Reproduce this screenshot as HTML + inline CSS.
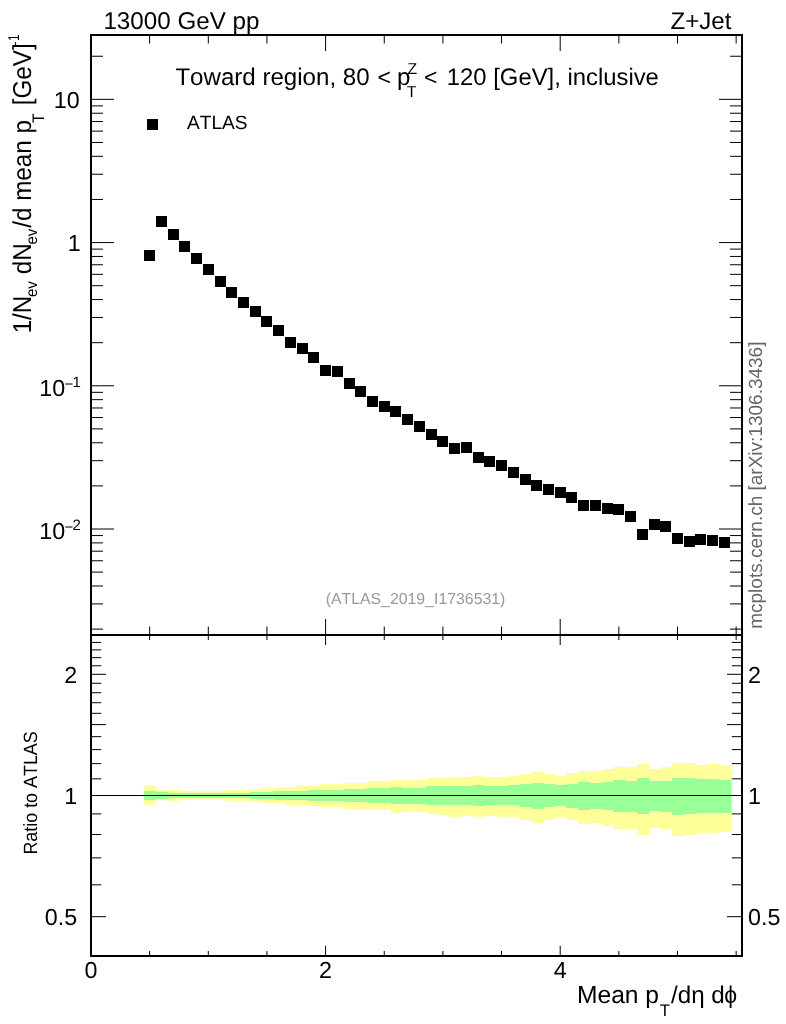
<!DOCTYPE html>
<html><head><meta charset="utf-8"><title>Toward region plot</title>
<style>html,body{margin:0;padding:0;background:#fff}svg{display:block;will-change:transform;filter:opacity(1)}text{font-family:"Liberation Sans",sans-serif;font-kerning:none;text-rendering:geometricPrecision;fill:#000}</style>
</head><body>
<svg width="786" height="1024" viewBox="0 0 786 1024">
<rect x="0" y="0" width="786" height="1024" fill="#fff"/>
<g shape-rendering="crispEdges">
<rect x="144" y="786" width="12" height="19" fill="#ffff99"/>
<rect x="156" y="790" width="12" height="10" fill="#ffff99"/>
<rect x="168" y="790" width="11" height="11" fill="#ffff99"/>
<rect x="179" y="791" width="12" height="9" fill="#ffff99"/>
<rect x="191" y="791" width="12" height="9" fill="#ffff99"/>
<rect x="203" y="791" width="12" height="9" fill="#ffff99"/>
<rect x="215" y="791" width="11" height="9" fill="#ffff99"/>
<rect x="226" y="790" width="12" height="11" fill="#ffff99"/>
<rect x="238" y="790" width="12" height="11" fill="#ffff99"/>
<rect x="250" y="789" width="11" height="13" fill="#ffff99"/>
<rect x="261" y="788" width="12" height="15" fill="#ffff99"/>
<rect x="273" y="788" width="12" height="15" fill="#ffff99"/>
<rect x="285" y="787" width="12" height="18" fill="#ffff99"/>
<rect x="297" y="786" width="11" height="19" fill="#ffff99"/>
<rect x="308" y="786" width="12" height="20" fill="#ffff99"/>
<rect x="320" y="784" width="12" height="23" fill="#ffff99"/>
<rect x="332" y="784" width="12" height="23" fill="#ffff99"/>
<rect x="344" y="783" width="11" height="26" fill="#ffff99"/>
<rect x="355" y="783" width="12" height="27" fill="#ffff99"/>
<rect x="367" y="781" width="12" height="29" fill="#ffff99"/>
<rect x="379" y="781" width="12" height="29" fill="#ffff99"/>
<rect x="391" y="780" width="11" height="33" fill="#ffff99"/>
<rect x="402" y="780" width="12" height="32" fill="#ffff99"/>
<rect x="414" y="780" width="12" height="32" fill="#ffff99"/>
<rect x="426" y="778" width="11" height="36" fill="#ffff99"/>
<rect x="437" y="778" width="12" height="37" fill="#ffff99"/>
<rect x="449" y="777" width="12" height="40" fill="#ffff99"/>
<rect x="461" y="777" width="12" height="39" fill="#ffff99"/>
<rect x="473" y="776" width="11" height="41" fill="#ffff99"/>
<rect x="484" y="777" width="12" height="39" fill="#ffff99"/>
<rect x="496" y="777" width="12" height="40" fill="#ffff99"/>
<rect x="508" y="776" width="12" height="41" fill="#ffff99"/>
<rect x="520" y="774" width="11" height="46" fill="#ffff99"/>
<rect x="531" y="772" width="12" height="51" fill="#ffff99"/>
<rect x="543" y="774" width="12" height="46" fill="#ffff99"/>
<rect x="555" y="776" width="11" height="41" fill="#ffff99"/>
<rect x="566" y="773" width="12" height="47" fill="#ffff99"/>
<rect x="578" y="771" width="12" height="53" fill="#ffff99"/>
<rect x="590" y="771" width="12" height="52" fill="#ffff99"/>
<rect x="602" y="769" width="11" height="57" fill="#ffff99"/>
<rect x="613" y="767" width="12" height="62" fill="#ffff99"/>
<rect x="625" y="767" width="12" height="62" fill="#ffff99"/>
<rect x="637" y="764" width="12" height="71" fill="#ffff99"/>
<rect x="649" y="769" width="11" height="59" fill="#ffff99"/>
<rect x="660" y="767" width="12" height="62" fill="#ffff99"/>
<rect x="672" y="763" width="12" height="73" fill="#ffff99"/>
<rect x="684" y="763" width="11" height="72" fill="#ffff99"/>
<rect x="695" y="765" width="12" height="68" fill="#ffff99"/>
<rect x="707" y="764" width="12" height="69" fill="#ffff99"/>
<rect x="719" y="765" width="12" height="67" fill="#ffff99"/>
<rect x="144" y="791" width="12" height="9" fill="#99ff99"/>
<rect x="156" y="792" width="12" height="7" fill="#99ff99"/>
<rect x="168" y="793" width="11" height="5" fill="#99ff99"/>
<rect x="179" y="793" width="12" height="5" fill="#99ff99"/>
<rect x="191" y="793" width="12" height="5" fill="#99ff99"/>
<rect x="203" y="793" width="12" height="5" fill="#99ff99"/>
<rect x="215" y="793" width="11" height="5" fill="#99ff99"/>
<rect x="226" y="793" width="12" height="5" fill="#99ff99"/>
<rect x="238" y="793" width="12" height="5" fill="#99ff99"/>
<rect x="250" y="792" width="11" height="7" fill="#99ff99"/>
<rect x="261" y="792" width="12" height="7" fill="#99ff99"/>
<rect x="273" y="791" width="12" height="9" fill="#99ff99"/>
<rect x="285" y="791" width="12" height="9" fill="#99ff99"/>
<rect x="297" y="791" width="11" height="9" fill="#99ff99"/>
<rect x="308" y="790" width="12" height="11" fill="#99ff99"/>
<rect x="320" y="790" width="12" height="11" fill="#99ff99"/>
<rect x="332" y="790" width="12" height="11" fill="#99ff99"/>
<rect x="344" y="789" width="11" height="13" fill="#99ff99"/>
<rect x="355" y="789" width="12" height="13" fill="#99ff99"/>
<rect x="367" y="788" width="12" height="15" fill="#99ff99"/>
<rect x="379" y="788" width="12" height="15" fill="#99ff99"/>
<rect x="391" y="787" width="11" height="17" fill="#99ff99"/>
<rect x="402" y="788" width="12" height="16" fill="#99ff99"/>
<rect x="414" y="788" width="12" height="16" fill="#99ff99"/>
<rect x="426" y="786" width="11" height="19" fill="#99ff99"/>
<rect x="437" y="786" width="12" height="19" fill="#99ff99"/>
<rect x="449" y="786" width="12" height="19" fill="#99ff99"/>
<rect x="461" y="786" width="12" height="19" fill="#99ff99"/>
<rect x="473" y="785" width="11" height="21" fill="#99ff99"/>
<rect x="484" y="786" width="12" height="19" fill="#99ff99"/>
<rect x="496" y="786" width="12" height="19" fill="#99ff99"/>
<rect x="508" y="785" width="12" height="20" fill="#99ff99"/>
<rect x="520" y="784" width="11" height="23" fill="#99ff99"/>
<rect x="531" y="783" width="12" height="26" fill="#99ff99"/>
<rect x="543" y="784" width="12" height="23" fill="#99ff99"/>
<rect x="555" y="785" width="11" height="21" fill="#99ff99"/>
<rect x="566" y="784" width="12" height="24" fill="#99ff99"/>
<rect x="578" y="782" width="12" height="28" fill="#99ff99"/>
<rect x="590" y="783" width="12" height="26" fill="#99ff99"/>
<rect x="602" y="782" width="11" height="28" fill="#99ff99"/>
<rect x="613" y="780" width="12" height="32" fill="#99ff99"/>
<rect x="625" y="781" width="12" height="31" fill="#99ff99"/>
<rect x="637" y="778" width="12" height="36" fill="#99ff99"/>
<rect x="649" y="781" width="11" height="30" fill="#99ff99"/>
<rect x="660" y="781" width="12" height="31" fill="#99ff99"/>
<rect x="672" y="778" width="12" height="37" fill="#99ff99"/>
<rect x="684" y="778" width="11" height="36" fill="#99ff99"/>
<rect x="695" y="779" width="12" height="34" fill="#99ff99"/>
<rect x="707" y="779" width="12" height="34" fill="#99ff99"/>
<rect x="719" y="780" width="12" height="33" fill="#99ff99"/>
</g>
<line x1="91" y1="795.5" x2="742" y2="795.5" stroke="#000" stroke-width="1.2"/>
<g stroke="#000" stroke-width="1">
<line x1="92.0" y1="629.12" x2="103.0" y2="629.12"/>
<line x1="730.0" y1="629.12" x2="741.0" y2="629.12"/>
<line x1="92.0" y1="603.90" x2="103.0" y2="603.90"/>
<line x1="730.0" y1="603.90" x2="741.0" y2="603.90"/>
<line x1="92.0" y1="586.00" x2="103.0" y2="586.00"/>
<line x1="730.0" y1="586.00" x2="741.0" y2="586.00"/>
<line x1="92.0" y1="572.12" x2="103.0" y2="572.12"/>
<line x1="730.0" y1="572.12" x2="741.0" y2="572.12"/>
<line x1="92.0" y1="560.78" x2="103.0" y2="560.78"/>
<line x1="730.0" y1="560.78" x2="741.0" y2="560.78"/>
<line x1="92.0" y1="551.20" x2="103.0" y2="551.20"/>
<line x1="730.0" y1="551.20" x2="741.0" y2="551.20"/>
<line x1="92.0" y1="542.89" x2="103.0" y2="542.89"/>
<line x1="730.0" y1="542.89" x2="741.0" y2="542.89"/>
<line x1="92.0" y1="535.56" x2="103.0" y2="535.56"/>
<line x1="730.0" y1="535.56" x2="741.0" y2="535.56"/>
<line x1="92.0" y1="529.01" x2="114.0" y2="529.01"/>
<line x1="719.0" y1="529.01" x2="741.0" y2="529.01"/>
<line x1="92.0" y1="485.90" x2="103.0" y2="485.90"/>
<line x1="730.0" y1="485.90" x2="741.0" y2="485.90"/>
<line x1="92.0" y1="460.68" x2="103.0" y2="460.68"/>
<line x1="730.0" y1="460.68" x2="741.0" y2="460.68"/>
<line x1="92.0" y1="442.78" x2="103.0" y2="442.78"/>
<line x1="730.0" y1="442.78" x2="741.0" y2="442.78"/>
<line x1="92.0" y1="428.90" x2="103.0" y2="428.90"/>
<line x1="730.0" y1="428.90" x2="741.0" y2="428.90"/>
<line x1="92.0" y1="417.56" x2="103.0" y2="417.56"/>
<line x1="730.0" y1="417.56" x2="741.0" y2="417.56"/>
<line x1="92.0" y1="407.98" x2="103.0" y2="407.98"/>
<line x1="730.0" y1="407.98" x2="741.0" y2="407.98"/>
<line x1="92.0" y1="399.67" x2="103.0" y2="399.67"/>
<line x1="730.0" y1="399.67" x2="741.0" y2="399.67"/>
<line x1="92.0" y1="392.34" x2="103.0" y2="392.34"/>
<line x1="730.0" y1="392.34" x2="741.0" y2="392.34"/>
<line x1="92.0" y1="385.79" x2="114.0" y2="385.79"/>
<line x1="719.0" y1="385.79" x2="741.0" y2="385.79"/>
<line x1="92.0" y1="342.68" x2="103.0" y2="342.68"/>
<line x1="730.0" y1="342.68" x2="741.0" y2="342.68"/>
<line x1="92.0" y1="317.46" x2="103.0" y2="317.46"/>
<line x1="730.0" y1="317.46" x2="741.0" y2="317.46"/>
<line x1="92.0" y1="299.56" x2="103.0" y2="299.56"/>
<line x1="730.0" y1="299.56" x2="741.0" y2="299.56"/>
<line x1="92.0" y1="285.68" x2="103.0" y2="285.68"/>
<line x1="730.0" y1="285.68" x2="741.0" y2="285.68"/>
<line x1="92.0" y1="274.34" x2="103.0" y2="274.34"/>
<line x1="730.0" y1="274.34" x2="741.0" y2="274.34"/>
<line x1="92.0" y1="264.76" x2="103.0" y2="264.76"/>
<line x1="730.0" y1="264.76" x2="741.0" y2="264.76"/>
<line x1="92.0" y1="256.45" x2="103.0" y2="256.45"/>
<line x1="730.0" y1="256.45" x2="741.0" y2="256.45"/>
<line x1="92.0" y1="249.12" x2="103.0" y2="249.12"/>
<line x1="730.0" y1="249.12" x2="741.0" y2="249.12"/>
<line x1="92.0" y1="242.57" x2="114.0" y2="242.57"/>
<line x1="719.0" y1="242.57" x2="741.0" y2="242.57"/>
<line x1="92.0" y1="199.46" x2="103.0" y2="199.46"/>
<line x1="730.0" y1="199.46" x2="741.0" y2="199.46"/>
<line x1="92.0" y1="174.24" x2="103.0" y2="174.24"/>
<line x1="730.0" y1="174.24" x2="741.0" y2="174.24"/>
<line x1="92.0" y1="156.34" x2="103.0" y2="156.34"/>
<line x1="730.0" y1="156.34" x2="741.0" y2="156.34"/>
<line x1="92.0" y1="142.46" x2="103.0" y2="142.46"/>
<line x1="730.0" y1="142.46" x2="741.0" y2="142.46"/>
<line x1="92.0" y1="131.12" x2="103.0" y2="131.12"/>
<line x1="730.0" y1="131.12" x2="741.0" y2="131.12"/>
<line x1="92.0" y1="121.54" x2="103.0" y2="121.54"/>
<line x1="730.0" y1="121.54" x2="741.0" y2="121.54"/>
<line x1="92.0" y1="113.23" x2="103.0" y2="113.23"/>
<line x1="730.0" y1="113.23" x2="741.0" y2="113.23"/>
<line x1="92.0" y1="105.90" x2="103.0" y2="105.90"/>
<line x1="730.0" y1="105.90" x2="741.0" y2="105.90"/>
<line x1="92.0" y1="99.35" x2="114.0" y2="99.35"/>
<line x1="719.0" y1="99.35" x2="741.0" y2="99.35"/>
<line x1="92.0" y1="56.24" x2="103.0" y2="56.24"/>
<line x1="730.0" y1="56.24" x2="741.0" y2="56.24"/>
<line x1="92.0" y1="916.70" x2="106.0" y2="916.70"/>
<line x1="727.0" y1="916.70" x2="741.0" y2="916.70"/>
<line x1="92.0" y1="884.82" x2="101.2" y2="884.82"/>
<line x1="731.8" y1="884.82" x2="741.0" y2="884.82"/>
<line x1="92.0" y1="857.87" x2="101.2" y2="857.87"/>
<line x1="731.8" y1="857.87" x2="741.0" y2="857.87"/>
<line x1="92.0" y1="834.52" x2="101.2" y2="834.52"/>
<line x1="731.8" y1="834.52" x2="741.0" y2="834.52"/>
<line x1="92.0" y1="813.92" x2="101.2" y2="813.92"/>
<line x1="731.8" y1="813.92" x2="741.0" y2="813.92"/>
<line x1="92.0" y1="795.50" x2="106.0" y2="795.50"/>
<line x1="727.0" y1="795.50" x2="741.0" y2="795.50"/>
<line x1="92.0" y1="778.83" x2="101.2" y2="778.83"/>
<line x1="731.8" y1="778.83" x2="741.0" y2="778.83"/>
<line x1="92.0" y1="763.62" x2="101.2" y2="763.62"/>
<line x1="731.8" y1="763.62" x2="741.0" y2="763.62"/>
<line x1="92.0" y1="749.62" x2="101.2" y2="749.62"/>
<line x1="731.8" y1="749.62" x2="741.0" y2="749.62"/>
<line x1="92.0" y1="736.67" x2="101.2" y2="736.67"/>
<line x1="731.8" y1="736.67" x2="741.0" y2="736.67"/>
<line x1="92.0" y1="724.60" x2="106.0" y2="724.60"/>
<line x1="727.0" y1="724.60" x2="741.0" y2="724.60"/>
<line x1="92.0" y1="713.32" x2="101.2" y2="713.32"/>
<line x1="731.8" y1="713.32" x2="741.0" y2="713.32"/>
<line x1="92.0" y1="702.72" x2="101.2" y2="702.72"/>
<line x1="731.8" y1="702.72" x2="741.0" y2="702.72"/>
<line x1="92.0" y1="692.72" x2="101.2" y2="692.72"/>
<line x1="731.8" y1="692.72" x2="741.0" y2="692.72"/>
<line x1="92.0" y1="683.27" x2="101.2" y2="683.27"/>
<line x1="731.8" y1="683.27" x2="741.0" y2="683.27"/>
<line x1="92.0" y1="674.30" x2="106.0" y2="674.30"/>
<line x1="727.0" y1="674.30" x2="741.0" y2="674.30"/>
<line x1="92.0" y1="665.77" x2="101.2" y2="665.77"/>
<line x1="731.8" y1="665.77" x2="741.0" y2="665.77"/>
<line x1="92.0" y1="657.63" x2="101.2" y2="657.63"/>
<line x1="731.8" y1="657.63" x2="741.0" y2="657.63"/>
<line x1="92.0" y1="649.86" x2="101.2" y2="649.86"/>
<line x1="731.8" y1="649.86" x2="741.0" y2="649.86"/>
<line x1="92.0" y1="642.42" x2="101.2" y2="642.42"/>
<line x1="731.8" y1="642.42" x2="741.0" y2="642.42"/>
<line x1="149.65" y1="36.0" x2="149.65" y2="43.5"/>
<line x1="149.65" y1="626.5" x2="149.65" y2="640.0"/>
<line x1="149.65" y1="951.0" x2="149.65" y2="955.0"/>
<line x1="208.30" y1="36.0" x2="208.30" y2="43.5"/>
<line x1="208.30" y1="626.5" x2="208.30" y2="640.0"/>
<line x1="208.30" y1="951.0" x2="208.30" y2="955.0"/>
<line x1="266.95" y1="36.0" x2="266.95" y2="43.5"/>
<line x1="266.95" y1="626.5" x2="266.95" y2="640.0"/>
<line x1="266.95" y1="951.0" x2="266.95" y2="955.0"/>
<line x1="325.60" y1="36.0" x2="325.60" y2="51.0"/>
<line x1="325.60" y1="619.0" x2="325.60" y2="645.0"/>
<line x1="325.60" y1="945.7" x2="325.60" y2="955.0"/>
<line x1="384.25" y1="36.0" x2="384.25" y2="43.5"/>
<line x1="384.25" y1="626.5" x2="384.25" y2="640.0"/>
<line x1="384.25" y1="951.0" x2="384.25" y2="955.0"/>
<line x1="442.90" y1="36.0" x2="442.90" y2="43.5"/>
<line x1="442.90" y1="626.5" x2="442.90" y2="640.0"/>
<line x1="442.90" y1="951.0" x2="442.90" y2="955.0"/>
<line x1="501.55" y1="36.0" x2="501.55" y2="43.5"/>
<line x1="501.55" y1="626.5" x2="501.55" y2="640.0"/>
<line x1="501.55" y1="951.0" x2="501.55" y2="955.0"/>
<line x1="560.20" y1="36.0" x2="560.20" y2="51.0"/>
<line x1="560.20" y1="619.0" x2="560.20" y2="645.0"/>
<line x1="560.20" y1="945.7" x2="560.20" y2="955.0"/>
<line x1="618.85" y1="36.0" x2="618.85" y2="43.5"/>
<line x1="618.85" y1="626.5" x2="618.85" y2="640.0"/>
<line x1="618.85" y1="951.0" x2="618.85" y2="955.0"/>
<line x1="677.50" y1="36.0" x2="677.50" y2="43.5"/>
<line x1="677.50" y1="626.5" x2="677.50" y2="640.0"/>
<line x1="677.50" y1="951.0" x2="677.50" y2="955.0"/>
<line x1="736.15" y1="36.0" x2="736.15" y2="43.5"/>
<line x1="736.15" y1="626.5" x2="736.15" y2="640.0"/>
<line x1="736.15" y1="951.0" x2="736.15" y2="955.0"/>
</g>
<g shape-rendering="crispEdges" fill="#000">
<rect x="90" y="34" width="2" height="923"/>
<rect x="741" y="34" width="2" height="923"/>
<rect x="90" y="34" width="653" height="2"/>
<rect x="90" y="634" width="653" height="2"/>
<rect x="90" y="955" width="653" height="2"/>
</g>
<g shape-rendering="crispEdges" fill="#000">
<rect x="144" y="250" width="11" height="11"/>
<rect x="156" y="216" width="11" height="11"/>
<rect x="168" y="229" width="11" height="11"/>
<rect x="179" y="241" width="11" height="11"/>
<rect x="191" y="253" width="11" height="11"/>
<rect x="203" y="264" width="11" height="11"/>
<rect x="215" y="276" width="11" height="11"/>
<rect x="226" y="287" width="11" height="11"/>
<rect x="238" y="297" width="11" height="11"/>
<rect x="250" y="306" width="11" height="11"/>
<rect x="261" y="316" width="11" height="11"/>
<rect x="273" y="325" width="11" height="11"/>
<rect x="285" y="337" width="11" height="11"/>
<rect x="297" y="343" width="11" height="11"/>
<rect x="308" y="352" width="11" height="11"/>
<rect x="320" y="365" width="11" height="11"/>
<rect x="332" y="366" width="11" height="11"/>
<rect x="344" y="378" width="11" height="11"/>
<rect x="355" y="386" width="11" height="11"/>
<rect x="367" y="396" width="11" height="11"/>
<rect x="379" y="401" width="11" height="11"/>
<rect x="390" y="406" width="11" height="11"/>
<rect x="402" y="414" width="11" height="11"/>
<rect x="414" y="421" width="11" height="11"/>
<rect x="426" y="429" width="11" height="11"/>
<rect x="437" y="436" width="11" height="11"/>
<rect x="449" y="443" width="11" height="11"/>
<rect x="461" y="442" width="11" height="11"/>
<rect x="473" y="452" width="11" height="11"/>
<rect x="484" y="456" width="11" height="11"/>
<rect x="496" y="460" width="11" height="11"/>
<rect x="508" y="467" width="11" height="11"/>
<rect x="520" y="474" width="11" height="11"/>
<rect x="531" y="480" width="11" height="11"/>
<rect x="543" y="484" width="11" height="11"/>
<rect x="555" y="487" width="11" height="11"/>
<rect x="566" y="492" width="11" height="11"/>
<rect x="578" y="500" width="11" height="11"/>
<rect x="590" y="500" width="11" height="11"/>
<rect x="602" y="503" width="11" height="11"/>
<rect x="613" y="504" width="11" height="11"/>
<rect x="625" y="511" width="11" height="11"/>
<rect x="637" y="529" width="11" height="11"/>
<rect x="649" y="519" width="11" height="11"/>
<rect x="660" y="521" width="11" height="11"/>
<rect x="672" y="533" width="11" height="11"/>
<rect x="684" y="536" width="11" height="11"/>
<rect x="695" y="534" width="11" height="11"/>
<rect x="707" y="535" width="11" height="11"/>
<rect x="719" y="537" width="11" height="11"/>
<rect x="147" y="119" width="11" height="11"/>
</g>
<text transform="translate(103.40,29.20)" font-size="24.2" text-anchor="start">13000 GeV pp</text>
<text transform="translate(731.40,28.60)" font-size="24.1" text-anchor="end">Z+Jet</text>
<text transform="translate(175.40,84.60)" font-size="24.1" text-anchor="start">Toward region, 80</text>
<text transform="translate(377.60,84.60)" font-size="23.0" text-anchor="start">&lt;</text>
<text transform="translate(397.00,84.60)" font-size="24.1" text-anchor="start">p</text>
<text transform="translate(407.40,73.50)" font-size="15.8" text-anchor="start">Z</text>
<text transform="translate(406.80,96.70)" font-size="15.8" text-anchor="start">T</text>
<text transform="translate(423.90,84.60)" font-size="23.0" text-anchor="start">&lt;</text>
<text transform="translate(446.80,84.60)" font-size="23.85" text-anchor="start">120 [GeV], inclusive</text>
<text transform="translate(187.00,129.40)" font-size="19.1" text-anchor="start">ATLAS</text>
<text transform="translate(415.50,604.00)" font-size="15.85" text-anchor="middle" style="fill:#999">(ATLAS_2019_I1736531)</text>
<text transform="translate(762.30,628.80) rotate(-90)" font-size="19.0" text-anchor="start" style="fill:#666">mcplots.cern.ch [arXiv:1306.3436]</text>
<text transform="translate(36.50,854.60) rotate(-90) scale(1,1.07)" font-size="17.9" text-anchor="start">Ratio to ATLAS</text>
<text transform="translate(79.60,108.30)" font-size="23.3" text-anchor="end">10</text>
<text transform="translate(80.80,250.60)" font-size="23.3" text-anchor="end">1</text>
<text transform="translate(65.20,396.30)" font-size="23.3" text-anchor="end">10</text>
<text transform="translate(65.20,539.30)" font-size="23.3" text-anchor="end">10</text>
<text transform="translate(64.40,389.10)" font-size="15.0" text-anchor="start">−</text>
<text transform="translate(72.60,386.90)" font-size="15.0" text-anchor="start">1</text>
<text transform="translate(64.40,532.10)" font-size="15.0" text-anchor="start">−</text>
<text transform="translate(72.60,529.90)" font-size="15.0" text-anchor="start">2</text>
<text transform="translate(77.20,683.00)" font-size="23.3" text-anchor="end">2</text>
<text transform="translate(748.10,683.00)" font-size="23.3" text-anchor="start">2</text>
<text transform="translate(77.20,804.20)" font-size="23.3" text-anchor="end">1</text>
<text transform="translate(748.10,804.20)" font-size="23.3" text-anchor="start">1</text>
<text transform="translate(77.20,925.00)" font-size="23.3" text-anchor="end">0.5</text>
<text transform="translate(748.10,925.00)" font-size="23.3" text-anchor="start">0.5</text>
<text transform="translate(91.00,978.20)" font-size="23.3" text-anchor="middle">0</text>
<text transform="translate(325.60,978.20)" font-size="23.3" text-anchor="middle">2</text>
<text transform="translate(560.20,978.20)" font-size="23.3" text-anchor="middle">4</text>
<text transform="translate(577.00,1003.10)" font-size="24.6" text-anchor="start">Mean p</text>
<text transform="translate(659.70,1016.00)" font-size="16.8" text-anchor="start">T</text>
<text transform="translate(671.00,1003.10)" font-size="24.2" text-anchor="start">/dη d</text>
<text transform="translate(724.30,1003.10) scale(0.95,1)" font-size="24.2" text-anchor="start">ϕ</text>
<text transform="translate(30.80,333.34) rotate(-90) scale(1,1.07)" font-size="24.2" text-anchor="start">1/N</text>
<text transform="translate(37.20,297.00) rotate(-90) scale(1,1.07)" font-size="15" text-anchor="start">ev</text>
<text transform="translate(30.80,274.21) rotate(-90) scale(1,1.07)" font-size="24.2" text-anchor="start">dN</text>
<text transform="translate(37.20,244.60) rotate(-90) scale(1,1.07)" font-size="15" text-anchor="start">ev</text>
<text transform="translate(30.80,227.70) rotate(-90) scale(1,1.07)" font-size="24.2" text-anchor="start">/d mean p</text>
<text transform="translate(44.00,122.91) rotate(-90) scale(1,1.07)" font-size="15.6" text-anchor="start">T</text>
<text transform="translate(30.80,105.22) rotate(-90) scale(1,1.07)" font-size="24.2" text-anchor="start">[GeV]</text>
<text transform="translate(18.70,45.40) rotate(-90) scale(1,1.07)" font-size="12" text-anchor="start">-</text>
<text transform="translate(18.70,40.91) rotate(-90) scale(1,1.3)" font-size="12" text-anchor="start">1</text>
</svg></body></html>
